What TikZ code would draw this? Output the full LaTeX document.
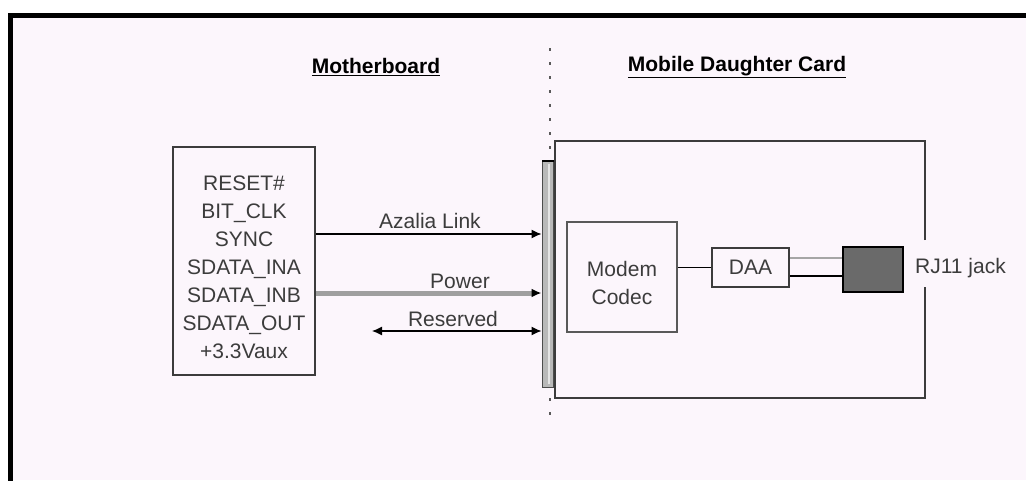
\documentclass[tikz,border=0pt]{standalone}
\usepackage{fontspec}
\setmainfont{Liberation Sans}
\usetikzlibrary{arrows.meta}
\definecolor{sheet}{HTML}{FCF6FC}
\definecolor{ink}{HTML}{3C3C3C}
\definecolor{jackgray}{HTML}{6A6A6A}

\begin{document}
\begin{tikzpicture}[x=1pt, y=-1pt]
	\tikzstyle{every node} = [font=\fontsize{21}{28}\selectfont, text=ink, inner sep=0pt]
	\tikzstyle{title} = [font=\bfseries\fontsize{21}{25}\selectfont, text=black]
	\tikzstyle{blk} = [draw=ink, line width=1.5pt]
	\tikzstyle{sig} = [line width=1.2pt, >={Latex[length=10pt, width=9pt, color=black]}]
	\useasboundingbox (0,0) rectangle (1026,480);
	\clip (0,0) rectangle (1026,480);
	% sheet and frame
	\fill[white] (0,0) rectangle (1026,480);
	\fill[sheet] (10,13) rectangle (1026,480);
	\draw[line width=5pt] (10.5,15.5) rectangle (1045,500);
	% headings and divider
	\node[title] (mbtitle) at (376,67) {\underline{Motherboard}};
	\node[title] (mdctitle) at (737,67) {\underline{Mobile Daughter Card}};
	\draw[gray!70!black, line width=1.2pt, dash pattern=on 3pt off 11pt] (550,48) -- (550,422);
	% motherboard side
	\node[blk, minimum width=142pt, minimum height=228pt] (mb) at (244,261) {};
	\node[align=center] (pins) at (244,267) {RESET\#\\BIT\_CLK\\SYNC\\SDATA\_INA\\SDATA\_INB\\SDATA\_OUT\\+3.3Vaux};
	% connector strip
	\node[draw=gray!60!black, fill=gray!55, line width=1pt, minimum width=11pt, minimum height=226pt] (bar) at (547.5,274) {};
	\draw[gray!20, line width=1.5pt] (549,164) -- (549,384);
	\draw[line width=1.5pt] (542,161) -- (555,161);
	\coordinate (azl) at (0,234); \coordinate (pwr) at (0,293); \coordinate (rsv) at (372,331);
	\draw[sig, ->] (mb.east |- azl) -- (bar.west |- azl);
	\draw[sig, ->, draw=gray!75, line width=5pt] (mb.east |- pwr) -- (bar.west |- pwr);
	\draw[sig, <->] (rsv) -- (bar.west |- rsv);
	\node (azltxt) at (430,221) {Azalia Link};
	\node (pwrtxt) at (460,281) {Power};
	\node (rsvtxt) at (453,319) {Reserved};
	% daughter card
	\draw[blk] (925,240) -- (925,141) -- (555,141) -- (555,398) -- (925,398) -- (925,287);
	\node[draw=gray!70!black, line width=1.5pt, minimum width=110pt, minimum height=110pt] (codec) at (622,277) {};
	\node[align=center] (codectxt) at (622,283) {Modem\\Codec};
	\node[blk, minimum width=77pt, minimum height=39pt] (daa) at (750.5,267.5) {DAA};
	\node[draw=black, line width=1.5pt, fill=jackgray, minimum width=60pt, minimum height=45pt] (jack) at (873,269.5) {};
	\node[anchor=west] (rj) at (915,268) {RJ11 jack};
	\draw[line width=1.3pt] (codec.east |- daa) -- (daa.west);
	\draw[gray!70, line width=2.5pt] ([yshift=9.5pt]daa.east) -- ([yshift=9.5pt]daa.east -| jack.west);
	\draw[line width=1.3pt] ([yshift=-8.5pt]daa.east) -- ([yshift=-8.5pt]daa.east -| jack.west);
\end{tikzpicture}
\end{document}
